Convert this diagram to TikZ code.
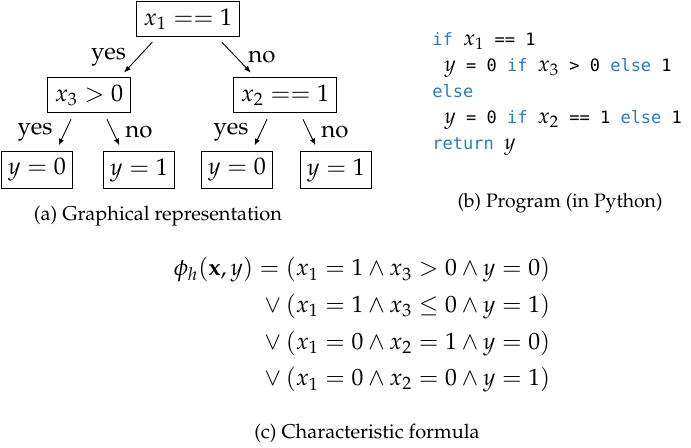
\documentclass[tikz,border=0pt]{standalone}
\usepackage{fontspec}
\newfontfamily\codefont{DejaVu Sans Mono}
\usepackage[T1]{fontenc}
\usepackage{mathpazo}
\usepackage{amsmath,amssymb}
\usepackage{xcolor}
\usetikzlibrary{positioning,arrows.meta}
\definecolor{kwblue}{RGB}{38,125,195}
\newcommand{\kw}[1]{\textcolor{kwblue}{#1}}
\newcommand{\cm}[1]{{\fontsize{11}{13}\selectfont$#1$}}

\begin{document}
\begin{tikzpicture}[x=0.5pt, y=-0.5pt,
  >={Latex[length=3.4pt,width=2.6pt]},
  cond/.style={rectangle, draw, line width=0.5pt, inner sep=3.5pt, minimum height=17.5pt,
               font=\fontsize{12}{14}\selectfont},
  e/.style={->, line width=0.45pt, shorten <=3.5pt, shorten >=3pt},
  lbl/.style={font=\fontsize{12}{14}\selectfont, inner sep=1pt},
  captxt/.style={font=\normalsize, inner sep=0pt},
  prog/.style={font=\codefont\fontsize{8.5}{13}\selectfont, align=left, inner sep=0pt},
]
\useasboundingbox (0,0) rectangle (691,447);
% (a) the tree
\node[cond] (root) at (188,19)  {$x_1 == 1$};
\node[cond] (c3)   at (89,95)   {$x_3 > 0$};
\node[cond] (c2)   at (285,95)  {$x_2 == 1$};
\node[cond] (l1)   at (37,170)  {$y = 0$};
\node[cond] (l2)   at (139,170) {$y = 1$};
\node[cond] (l3)   at (237,170) {$y = 0$};
\node[cond] (l4)   at (336,170) {$y = 1$};

\draw[e] ([xshift=-15.5pt]root.south) -- ([xshift=15.5pt]c3.north) node[lbl,midway,left=5pt]{yes};
\draw[e] ([xshift=14.5pt]root.south)  -- ([xshift=-15pt]c2.north)  node[lbl,midway,right=5pt]{no};
\draw[e] ([xshift=-7.5pt]c3.south) -- ([xshift=9.5pt]l1.north)  node[lbl,midway,left=5pt]{yes};
\draw[e] ([xshift=7.5pt]c3.south)  -- ([xshift=-8.5pt]l2.north) node[lbl,midway,right=5pt]{no};
\draw[e] ([xshift=-7.5pt]c2.south) -- ([xshift=7.5pt]l3.north)  node[lbl,midway,left=5pt]{yes};
\draw[e] ([xshift=7.5pt]c2.south)  -- ([xshift=-9pt]l4.north)  node[lbl,midway,right=5pt]{no};

\node[captxt] (capa) at (158,216) {(a) Graphical representation};

% (b) the program
\node[prog, anchor=west] (code) at (432,94) {%
  \kw{if} \cm{x_1} == 1\\
  \hspace*{6pt}\cm{y} = 0 \kw{if} \cm{x_3} > 0 \kw{else} 1\\
  \kw{else}\\
  \hspace*{6pt}\cm{y} = 0 \kw{if} \cm{x_2} == 1 \kw{else} 1\\
  \kw{return} \cm{y}};
\node[captxt, font=\fontsize{9.7}{12}\selectfont] (capb) at (560,203) {(b) Program (in Python)};

% (c) the formula
\node[inner sep=0pt, font=\fontsize{11.8}{14.5}\selectfont] (phi) at (362,325) {%
  \setlength{\jot}{3.8pt}%
  $\begin{aligned}
    \phi_h(\mathbf{x},y) = {} &(x_1 = 1 \wedge x_3 > 0 \wedge y = 0)\\
    {}\vee{} &(x_1 = 1 \wedge x_3 \leq 0 \wedge y = 1)\\
    {}\vee{} &(x_1 = 0 \wedge x_2 = 1 \wedge y = 0)\\
    {}\vee{} &(x_1 = 0 \wedge x_2 = 0 \wedge y = 1)
  \end{aligned}$};
\node[captxt] (capc) at (367,433) {(c) Characteristic formula};
\end{tikzpicture}
\end{document}
